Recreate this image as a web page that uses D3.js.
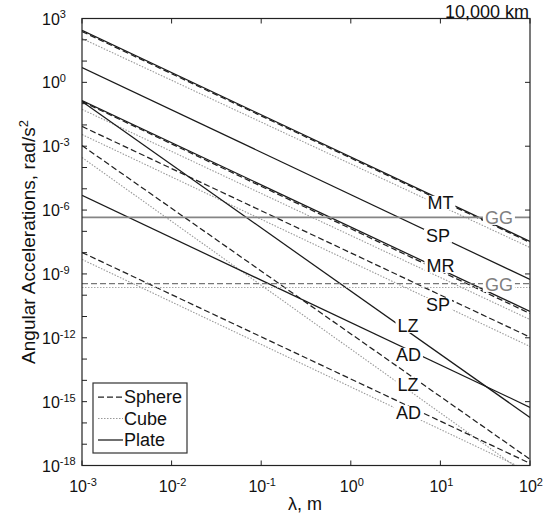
<!DOCTYPE html>
<html>
<head>
<meta charset="utf-8">
<script src="https://cdn.jsdelivr.net/npm/d3@7"></script>
<style>
  html, body { margin: 0; padding: 0; background: #fff; }
  svg { display: block; }
  text { font-family: Arial, "Liberation Sans", sans-serif; fill: #111; }
</style>
</head>
<body>
<div id="chart"></div>
<script>
// ---------------- data ----------------
const lambdaEnds = [1e-3, 1e2];               // wavelength range, m
const xTickExps = [-3, -2, -1, 0, 1, 2];     // x tick labels: 10^exp
const yTickExps = [3, 0, -3, -6, -9, -12, -15, -18]; // y tick labels
const yMinorExps = d3.range(-18, 4);         // left-side decade ticks

// power-law lines: value at lambda = 1e-3 and at lambda = 1e2
const lineNames  = ["MT plate","MT sphere","MT cube","SP plate","MR plate","MR sphere","MR cube",
                    "SP sphere","SP cube","LZ plate","LZ sphere","LZ cube","AD plate","AD sphere","AD cube",
                    "GG plate","GG sphere","GG cube"];
const lineShapes = ["Plate","Sphere","Cube","Plate","Plate","Sphere","Cube",
                    "Sphere","Cube","Plate","Sphere","Cube","Plate","Sphere","Cube",
                    "GGPlate","GGSphere","GGCube"];
const valueAtStart = [275, 245, 115, 5.0, 0.141, 0.126, 0.0537,
                      8.5e-3, 3.55e-3, 0.126, 1.07e-3, 2.95e-4, 4.9e-6, 1.02e-8, 4.8e-9,
                      4.5e-7, 3.5e-10, 2.3e-10];
const valueAtEnd   = [3.39e-8, 3.02e-8, 1.74e-8, 5.5e-10, 1.74e-11, 1.38e-11, 7.2e-12,
                      1.07e-12, 3.9e-13, 1.8e-16, 1.95e-18, 2.95e-19, 5.4e-16, 1.26e-18, 5.0e-19,
                      4.5e-7, 3.5e-10, 2.3e-10];

// in-line labels (text, lambda, value)
const labelTexts  = ["MT","SP","GG","MR","GG","SP","LZ","AD","LZ","AD"];
const labelLambda = [10, 9.4, 45, 10, 45, 9.4, 4.35, 4.4, 4.35, 4.4];
const labelValue  = [2.3e-6, 6.5e-8, 4.5e-7, 2.5e-9, 3.2e-10, 3.7e-11, 3.8e-12, 1.66e-13, 6.5e-15, 3.1e-16];
const labelGray   = [false, false, true, false, true, false, false, false, false, false];

const legendNames = ["Sphere", "Cube", "Plate"];
const cornerNote = "10,000 km";
const xTitle = "λ, m";
const yTitle = "Angular Accelerations, rad/s";

// ---------------- styles ----------------
const styles = {
  Plate:    {stroke: "#1a1a1a", dash: null,      width: 1.25},
  Sphere:   {stroke: "#222",    dash: "6,3",     width: 1.25},
  Cube:     {stroke: "#999",    dash: "1.5,1.5", width: 1.1},
  GGPlate:  {stroke: "#858585", dash: null,      width: 1.8},
  GGSphere: {stroke: "#777",    dash: "6,3",     width: 1.2},
  GGCube:   {stroke: "#aaa",    dash: "1.5,1.5", width: 1.1}
};

// ---------------- layout ----------------
const W = 551, H = 521;
const L = 82, R = 530, T = 18.5, B = 465.5;

const svg = d3.select("#chart").append("svg").attr("width", W).attr("height", H);

const x = d3.scaleLog().domain(lambdaEnds).range([L, R]);
const y = d3.scaleLog().domain([1e-18, 1e3]).range([B, T]);

svg.append("defs").append("clipPath").attr("id", "plotclip")
  .append("rect").attr("x", L).attr("y", T).attr("width", R - L).attr("height", B - T);

const plot = svg.append("g").attr("clip-path", "url(#plotclip)");

const lineGen = d3.line().x(d => x(d[0])).y(d => y(d[1]));

lineNames.forEach((name, i) => {
  const st = styles[lineShapes[i]];
  plot.append("path")
    .datum([[lambdaEnds[0], valueAtStart[i]], [lambdaEnds[1], valueAtEnd[i]]])
    .attr("d", lineGen)
    .attr("fill", "none")
    .attr("stroke", st.stroke)
    .attr("stroke-width", st.width)
    .attr("stroke-dasharray", st.dash);
});

// labels with white knock-out boxes
const labG = svg.append("g");
labelTexts.forEach((t, i) => {
  const g = labG.append("g");
  const txt = g.append("text")
    .attr("x", x(labelLambda[i]))
    .attr("y", y(labelValue[i]))
    .attr("dy", "0.36em")
    .attr("text-anchor", "middle")
    .attr("font-size", 18)
    .style("fill", labelGray[i] ? "#808080" : "#111")
    .text(t);
  const bb = txt.node().getBBox();
  g.insert("rect", "text")
    .attr("x", bb.x - 2).attr("y", bb.y + 3)
    .attr("width", bb.width + 4).attr("height", bb.height - 6)
    .attr("fill", "#fff");
});

// frame
svg.append("rect").attr("x", L).attr("y", T).attr("width", R - L).attr("height", B - T)
  .attr("fill", "none").attr("stroke", "#222").attr("stroke-width", 1.2);

// ticks
const tickG = svg.append("g").attr("stroke", "#222").attr("stroke-width", 1);
xTickExps.forEach(e => {
  const xx = x(Math.pow(10, e));
  tickG.append("line").attr("x1", xx).attr("x2", xx).attr("y1", B).attr("y2", B - 5);
  tickG.append("line").attr("x1", xx).attr("x2", xx).attr("y1", T).attr("y2", T + 5);
});
yMinorExps.forEach(e => {
  const yy = y(Math.pow(10, e));
  tickG.append("line").attr("x1", L).attr("x2", L + 5).attr("y1", yy).attr("y2", yy);
});
yTickExps.forEach(e => {
  const yy = y(Math.pow(10, e));
  tickG.append("line").attr("x1", R).attr("x2", R - 5).attr("y1", yy).attr("y2", yy);
});

// tick labels
function powLabel(sel, e) {
  sel.append("tspan").text("10");
  sel.append("tspan").attr("dy", "-0.55em").attr("font-size", 11).text(String(e));
}
xTickExps.forEach(e => {
  const t = svg.append("text").attr("x", x(Math.pow(10, e)) + 1).attr("y", 492)
    .attr("text-anchor", "middle").attr("font-size", 16);
  powLabel(t, e);
});
yTickExps.forEach(e => {
  const t = svg.append("text").attr("x", 42).attr("y", y(Math.pow(10, e)) + 6)
    .attr("text-anchor", "start").attr("font-size", 16);
  powLabel(t, e);
});

// axis titles
svg.append("text").attr("x", 305).attr("y", 510).attr("text-anchor", "middle")
  .attr("font-size", 18).text(xTitle);
const yt = svg.append("text").attr("transform", `translate(35,${(T + B) / 2}) rotate(-90)`)
  .attr("text-anchor", "middle").attr("font-size", 19);
yt.append("tspan").text(yTitle);
yt.append("tspan").attr("dy", "-0.55em").attr("font-size", 13).text("2");

// corner note
svg.append("text").attr("x", 529).attr("y", 18).attr("text-anchor", "end")
  .attr("font-size", 18).text(cornerNote);

// legend
const lg = svg.append("g");
lg.append("rect").attr("x", 93).attr("y", 383).attr("width", 94).attr("height", 70)
  .attr("fill", "#fff").attr("stroke", "#333").attr("stroke-width", 1.2);
legendNames.forEach((n, i) => {
  const yy = 397 + i * 21.5;
  const st = styles[n];
  lg.append("line").attr("x1", 98).attr("x2", 123).attr("y1", yy).attr("y2", yy)
    .attr("stroke", st.stroke).attr("stroke-width", st.width).attr("stroke-dasharray", st.dash);
  lg.append("text").attr("x", 124).attr("y", yy).attr("dy", "0.36em")
    .attr("font-size", 18).text(n);
});
</script>
</body>
</html>
